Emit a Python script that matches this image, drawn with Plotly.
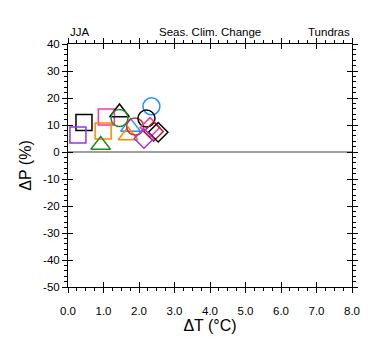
import plotly.graph_objects as go

# Data
names = ["sq_black", "sq_purple", "sq_magenta", "sq_orange",
         "tri_green", "tri_black", "tri_blue", "tri_orange",
         "ci_green", "ci_red", "ci_blue", "ci_black",
         "di_magenta", "di_darkred", "di_black", "di_purple"]
dT = [0.45, 0.28, 1.08, 0.99,
      0.92, 1.45, 1.76, 1.69,
      1.45, 1.89, 2.35, 2.21,
      2.31, 2.41, 2.54, 2.14]
dP = [10.9, 6.3, 13.0, 7.8,
      2.6, 14.6, 9.3, 6.1,
      12.6, 9.4, 16.9, 12.4,
      9.1, 7.6, 7.3, 5.0]
symbols = ["square-open"] * 4 + ["triangle-up-open"] * 4 + ["circle-open"] * 4 + ["diamond-open"] * 4
colors = ["#000000", "#9933ee", "#ff3399", "#ff8800",
          "#228b22", "#000000", "#1e90ff", "#ff8800",
          "#228b22", "#cc3333", "#1e90ff", "#000000",
          "#ff3399", "#b22222", "#000000", "#9933ee"]
sizes = [16] * 4 + [17] * 4 + [17] * 4 + [15] * 4

x_ticks = [0, 1, 2, 3, 4, 5, 6, 7, 8]
x_labels = ["0.0", "1.0", "2.0", "3.0", "4.0", "5.0", "6.0", "7.0", "8.0"]
y_ticks = [40, 30, 20, 10, 0, -10, -20, -30, -40, -50]
y_labels = ["40", "30", "20", "10", "0", "-10", "-20", "-30", "-40", "-50"]

fig = go.Figure()
for i in range(len(names)):
    fig.add_trace(go.Scatter(
        x=[dT[i]], y=[dP[i]], mode="markers", name=names[i],
        marker=dict(symbol=symbols[i], size=sizes[i],
                    line=dict(color=colors[i], width=1.5), color=colors[i]),
        showlegend=False, hoverinfo="skip"))

# invisible trace on overlay axes so they render
fig.add_trace(go.Scatter(x=[None], y=[None], xaxis="x2", yaxis="y2", showlegend=False))

font_family = "Liberation Sans, Arial, sans-serif"
# page body has an 8px margin, so the figure is shrunk and shifted accordingly
fig.update_layout(
    width=372, height=347,
    margin=dict(l=60, r=28, t=36, b=68),
    paper_bgcolor="white", plot_bgcolor="white",
    font=dict(family=font_family, color="black", size=11),
    xaxis=dict(range=[0, 8], tickvals=x_ticks, ticktext=x_labels, automargin=False,
               ticks="outside", ticklen=5, tickwidth=1, tickcolor="black",
               minor=dict(dtick=0.25, ticks="outside", ticklen=3, tickcolor="black"),
               showline=True, linecolor="black", linewidth=1, mirror="ticks",
               showgrid=False, zeroline=False, ticklabelstandoff=8,
               title=dict(text="ΔT (°C)", font=dict(size=16), standoff=3),
               tickfont=dict(size=11.5)),
    yaxis=dict(range=[-50, 40], tickvals=y_ticks, ticktext=y_labels, automargin=False,
               ticks="outside", ticklen=5, tickwidth=1, tickcolor="black",
               minor=dict(dtick=2, ticks="outside", ticklen=3, tickcolor="black"),
               showline=True, linecolor="black", linewidth=1, mirror="ticks",
               showgrid=False, zeroline=True, zerolinecolor="#a0a0a0", zerolinewidth=1.5,
               title=dict(text="ΔP (%)", font=dict(size=16), standoff=7),
               tickfont=dict(size=11.5)),
    xaxis2=dict(range=[0, 8], overlaying="x", tickvals=x_ticks, showticklabels=False,
                ticks="inside", ticklen=5, tickcolor="black", showgrid=False, automargin=False,
                zeroline=False, mirror="ticks", showline=False),
    yaxis2=dict(range=[-50, 40], overlaying="y", tickvals=y_ticks, showticklabels=False,
                ticks="inside", ticklen=5, tickcolor="black", showgrid=False, automargin=False,
                zeroline=False, mirror="ticks", showline=False),
    annotations=[
        dict(text="JJA", x=0, y=1, xref="paper", yref="paper", xanchor="left",
             yanchor="bottom", yshift=4, showarrow=False, font=dict(size=11.5)),
        dict(text="Seas. Clim. Change", x=0.5, y=1, xref="paper", yref="paper",
             xanchor="center", yanchor="bottom", yshift=4, showarrow=False, font=dict(size=11.5)),
        dict(text="Tundras", x=1, y=1, xref="paper", yref="paper", xanchor="right",
             yanchor="bottom", yshift=4, showarrow=False, font=dict(size=11.5)),
    ],
)

fig.write_html("out.html")
